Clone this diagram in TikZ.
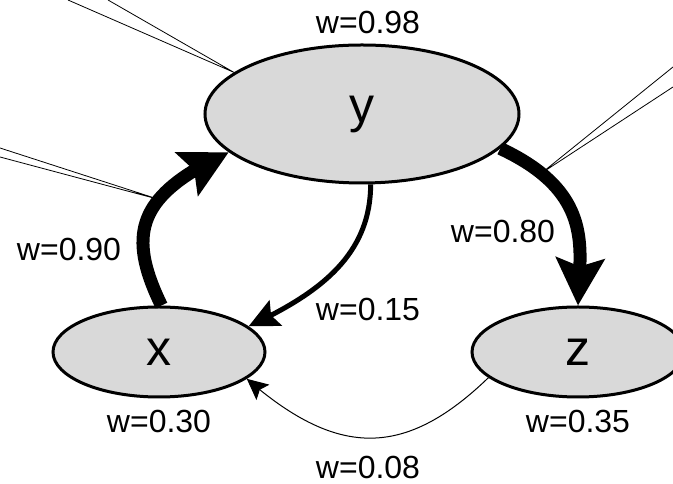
\documentclass[tikz,border=0pt]{standalone}
\usepackage{fontspec}
\setmainfont{Liberation Sans}
\usetikzlibrary{shapes.geometric,arrows.meta,bending}
\definecolor{nodegray}{HTML}{D9D9D9}

\begin{document}
\begin{tikzpicture}[x=1pt,y=1pt,
    var/.style={ellipse, draw, fill=nodegray, line width=3pt, inner sep=0pt,
      minimum width=212pt, minimum height=90pt, font=\fontsize{50}{60}\selectfont},
    wlabel/.style={font=\fontsize{32}{38}\selectfont},
    strong/.style={line width=13pt, -{Stealth[length=47pt, width=48pt, inset=8pt]}},
    medium/.style={line width=5pt, -{Stealth[length=30pt, width=28pt, inset=5pt]}},
    weak/.style={line width=1pt, -{Stealth[length=21pt, width=20pt, inset=4pt]}},
    faint/.style={line width=0.8pt}
  ]
  \useasboundingbox (0,0) rectangle (673,484);

  % variables
  \node[var, minimum width=314pt, minimum height=138pt] (vy) at (362,370) {y};
  \node[var] (vx) at (159,132) {x};
  \node[var] (vz) at (578,132) {z};

  % node weights
  \node[wlabel] (wy) at (368,462) {w=0.98};
  \node[wlabel] (wx) at (159,63) {w=0.30};
  \node[wlabel] (wz) at (578,63) {w=0.35};

  % edges
  \draw[strong] (vx.87) to[out=116, in=205, out distance=81, in distance=100]
    coordinate[pos=0.63] (lend) (vy.196);
  \draw[strong] (vy.-14) to[out=-25, in=90, out distance=110, in distance=50]
    coordinate[pos=0.17] (rend) (vz.north);
  \draw[medium] (vy.-83) to[out=-90, in=25] (vx.16);
  \draw[weak] (vz.196) to[out=-136, in=-41, looseness=1.25] (vx.-17);

  % edge weights
  \node[wlabel] (w90) at (69,235) {w=0.90};
  \node[wlabel] (w80) at (503,253) {w=0.80};
  \node[wlabel] (w15) at (368,175) {w=0.15};
  \node[wlabel] (w08) at (368,17) {w=0.08};

  % lines from outside
  \coordinate (ta) at (68,484);
  \coordinate (tb) at (108,484);
  \coordinate (la) at (0,336);
  \coordinate (lb) at (0,327);
  \coordinate (ra) at (673,417);
  \coordinate (rb) at (673,397);
  \draw[faint] (ta) -- (vy.162) -- (tb);
  \draw[faint] (la) -- (lend) -- (lb);
  \draw[faint] (ra) -- (rend) -- (rb);
\end{tikzpicture}
\end{document}
